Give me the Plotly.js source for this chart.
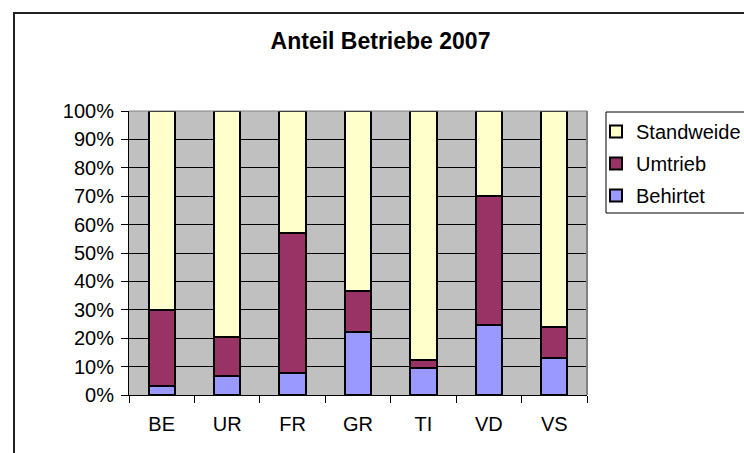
<!DOCTYPE html>
<html>
<head>
<meta charset="utf-8">
<script src="https://cdn.plot.ly/plotly-3.0.1.min.js"></script>
<style>html,body{margin:0;padding:0;background:#fff}#chart{width:744px;height:453px}</style>
</head>
<body>
<div id="chart"></div>
<script>
const categories = ['BE', 'UR', 'FR', 'GR', 'TI', 'VD', 'VS'];
const behirtet   = [3.1, 6.6, 7.8, 22.2, 9.6, 24.7, 13.1];
const umtrieb    = [26.8, 13.8, 49.1, 14.5, 2.6, 45.2, 10.7];
const standweide = [70.1, 79.6, 43.1, 63.3, 87.8, 30.1, 76.2];
const yTicks     = [0, 10, 20, 30, 40, 50, 60, 70, 80, 90, 100];

const W = 744, H = 453;
const L = 129, R = 587, T = 111, B = 395;
const px = x => (x - L) / (R - L);
const py = y => (B - y) / (B - T);

const font = {family: 'Liberation Sans, Arial, sans-serif', size: 20, color: '#000'};
function bar(name, y, color, group, rank) {
  return {type: 'bar', name: name, x: categories, y: y, width: 0.4, legendgroup: group, legendrank: rank,
    marker: {color: color, line: {color: '#000', width: 2}}, hoverinfo: 'x+y+name'};
}
const data = [
  bar('Behirtet', behirtet, '#9999FF', 'c', 3),
  bar('Umtrieb', umtrieb, '#993366', 'b', 2),
  bar('Standweide', standweide, '#FFFFCC', 'a', 1)
];
const layout = {
  width: W, height: H,
  margin: {l: L, r: W - R, t: T, b: H - B, pad: 0, autoexpand: false},
  paper_bgcolor: '#fff', plot_bgcolor: '#C0C0C0',
  font: font,
  barmode: 'stack',
  title: {text: '<b>Anteil Betriebe 2007</b>', font: {family: font.family, size: 23, color: '#000'},
    x: 380.5 / W, xanchor: 'center', xref: 'container', y: 1 - 41 / H, yanchor: 'middle', yref: 'container'},
  xaxis: {type: 'category', showgrid: false, showline: true, linecolor: '#000', linewidth: 1,
    ticks: 'outside', tickson: 'boundaries', ticklen: 7, tickcolor: '#000', tickwidth: 1,
    tickfont: font, ticklabelstandoff: 11, zeroline: false, fixedrange: true, automargin: false},
  yaxis: {range: [0, 100], tickvals: yTicks, ticktext: yTicks.map(v => v + '%'),
    showgrid: true, gridcolor: '#000', gridwidth: 1, showline: true, linecolor: '#000', linewidth: 1,
    ticks: 'outside', ticklen: 7, tickcolor: '#000', tickwidth: 1, tickfont: font,
    ticklabelstandoff: 3, zeroline: false, fixedrange: true, automargin: false},
  legend: {x: px(596), xanchor: 'left', y: py(112), yanchor: 'top', xref: 'paper', yref: 'paper',
    traceorder: 'grouped', tracegroupgap: 3, bgcolor: 'rgba(0,0,0,0)', borderwidth: 0,
    font: font},
  shapes: [
    {type: 'rect', xref: 'paper', yref: 'paper', x0: px(14), x1: px(760), y0: py(470), y1: py(13),
      line: {color: '#222', width: 2}, fillcolor: 'rgba(0,0,0,0)', layer: 'below'},
    {type: 'rect', xref: 'paper', yref: 'paper', x0: px(606), x1: px(760), y0: py(213), y1: py(112),
      line: {color: '#000', width: 1}, fillcolor: 'rgba(0,0,0,0)', layer: 'above'},
    {type: 'line', xref: 'paper', yref: 'paper', x0: 0, x1: 1, y0: 1, y1: 1, line: {color: '#808080', width: 1}},
    {type: 'line', xref: 'paper', yref: 'paper', x0: 1, x1: 1, y0: 0, y1: 1, line: {color: '#808080', width: 2}}
  ],
  showlegend: true
};
Plotly.newPlot('chart', data, layout, {displayModeBar: false, staticPlot: true});
</script>
</body>
</html>
